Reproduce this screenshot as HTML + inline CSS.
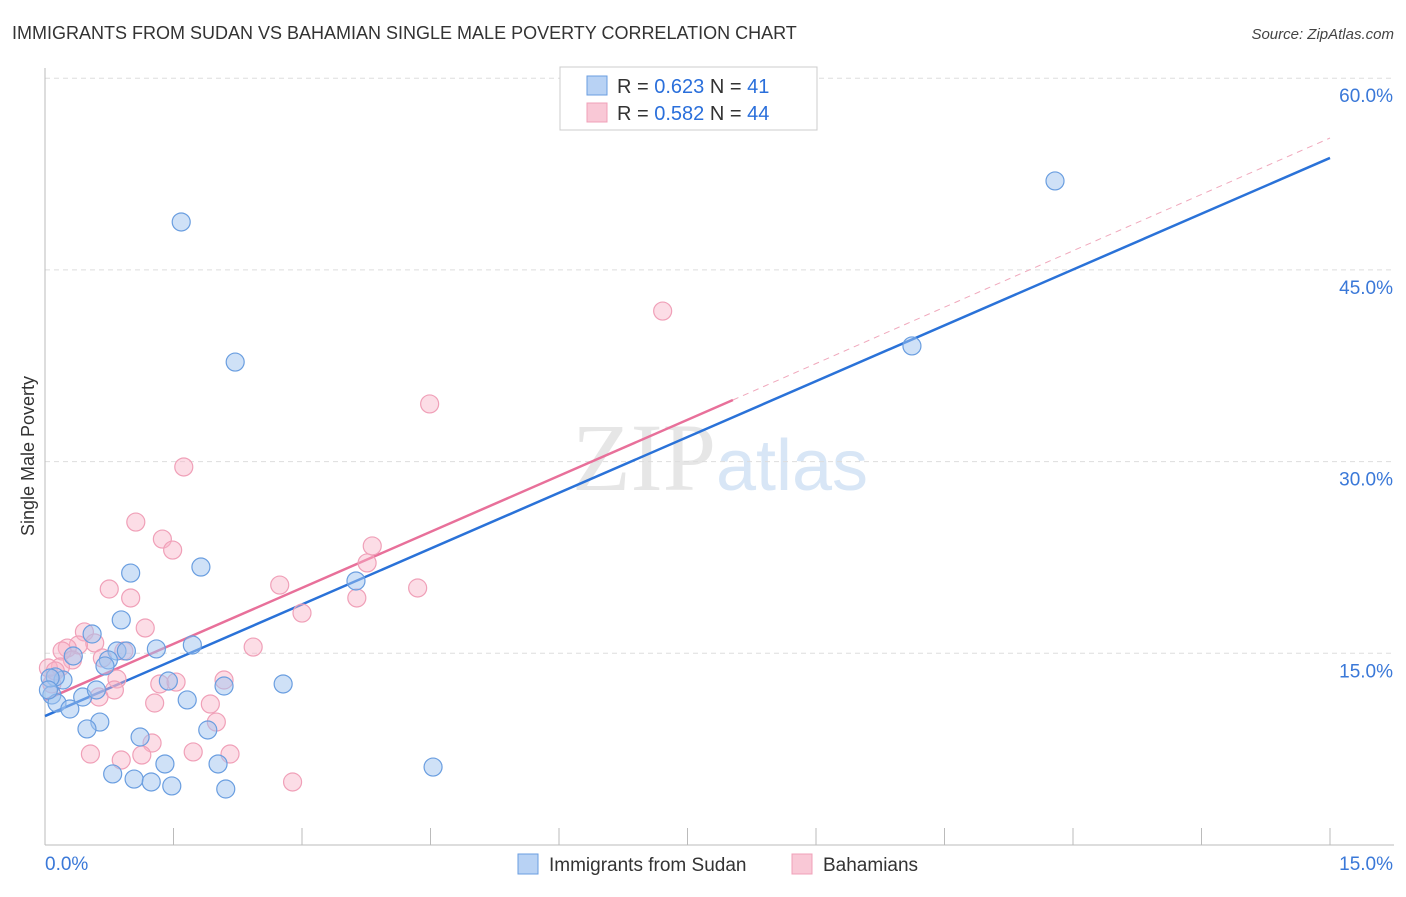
<!DOCTYPE html>
<html><head><meta charset="utf-8"><style>
body{margin:0;background:#fff;font-family:"Liberation Sans",sans-serif}
</style></head><body>
<svg id="chart" width="1406" height="892" xmlns="http://www.w3.org/2000/svg" font-family="Liberation Sans, sans-serif">
<text x="12" y="39" font-size="18" fill="#333">IMMIGRANTS FROM SUDAN VS BAHAMIAN SINGLE MALE POVERTY CORRELATION CHART</text>
<text x="1394" y="39" font-size="15" fill="#444" font-style="italic" text-anchor="end">Source: ZipAtlas.com</text>
<text x="720" y="490" font-size="96" text-anchor="middle" fill="#e6e6e6" font-family="Liberation Serif, serif">ZIP<tspan fill="#d8e6f6" font-family="Liberation Sans, sans-serif" font-size="72">atlas</tspan></text>
<text transform="translate(34,456) rotate(-90)" font-size="18" fill="#333" text-anchor="middle">Single Male Poverty</text>
<g id="grid"></g><g id="axes"></g><g id="lines"></g><g id="pts"></g>
<g>
<rect x="560" y="67" width="257" height="63" fill="#fff" stroke="#ccc"/>
<rect x="587" y="76" width="20" height="19" fill="#b8d2f4" stroke="#6a9ee0"/>
<text x="617" y="93" font-size="20" fill="#333">R = <tspan fill="#2a6fdb">0.623</tspan>   N =  <tspan fill="#2a6fdb">41</tspan></text>
<rect x="587" y="103" width="20" height="19" fill="#f9c8d6" stroke="#f0a0b8"/>
<text x="617" y="120" font-size="20" fill="#333">R = <tspan fill="#2a6fdb">0.582</tspan>   N = <tspan fill="#2a6fdb">44</tspan></text>
</g>
<g>
<rect x="518" y="854" width="20" height="20" fill="#b8d2f4" stroke="#6a9ee0"/>
<text x="549" y="871" font-size="19" fill="#333">Immigrants from Sudan</text>
<rect x="792" y="854" width="20" height="20" fill="#f9c8d6" stroke="#f0a0b8"/>
<text x="823" y="871" font-size="19" fill="#333">Bahamians</text>
</g>
</svg>
<script>
const xTicks=[0,1.5,3,4.5,6,7.5,9,10.5,12,13.5,15];
const yTicks=[15,30,45,60];
const yTickLabels=["15.0%","30.0%","45.0%","60.0%"];
const sudanX=[1.59,2.22,11.79,10.12,1.00,1.82,0.89,0.55,1.30,1.72,0.84,0.95,0.74,0.70,0.33,0.21,0.12,0.08,0.14,0.29,0.44,0.60,0.64,0.49,1.44,2.09,2.78,1.66,3.63,1.11,1.90,1.40,2.02,0.79,1.04,1.24,1.48,2.11,4.53,0.06,0.04];
const sudanY=[48.75,37.79,51.96,39.05,21.28,21.75,17.61,16.51,15.34,15.65,15.18,15.18,14.48,14.01,14.79,12.91,13.15,11.74,11.11,10.64,11.58,12.13,9.62,9.08,12.83,12.44,12.60,11.35,20.66,8.45,9.00,6.34,6.34,5.56,5.16,4.93,4.62,4.38,6.10,13.07,12.13];
const bahX=[7.21,4.49,1.62,1.06,1.37,1.49,3.82,3.76,2.74,4.35,0.75,1.00,3.64,3.00,1.17,0.46,0.58,0.39,0.26,0.20,0.32,0.67,0.92,2.43,0.18,0.84,1.34,1.53,2.09,0.81,0.63,1.28,1.93,2.00,1.25,0.53,1.13,1.73,2.16,0.89,2.89,0.04,0.08,0.12];
const bahY=[41.78,34.51,29.58,25.27,23.94,23.08,23.40,22.07,20.34,20.11,20.03,19.33,19.33,18.15,16.98,16.67,15.81,15.65,15.41,15.18,14.48,14.63,15.18,15.49,13.93,12.99,12.60,12.75,12.91,12.13,11.58,11.11,11.03,9.62,7.98,7.12,7.04,7.28,7.12,6.65,4.93,13.85,12.60,13.62];
const sudanLine=[[0,10.09],[15,53.76]];
const bahLine=[[0,11.35],[8.03,34.82]];
const bahDash=[[8.03,34.82],[15,55.32]];
const X0=45,X1=1330,YB=845;
const sx=v=>X0+(X1-X0)*v/15;
const sy=v=>YB-v*12.78;
const NS="http://www.w3.org/2000/svg";
function mk(t,a,parent){const e=document.createElementNS(NS,t);for(const k in a)e.setAttribute(k,a[k]);document.getElementById(parent).appendChild(e);return e;}
yTicks.forEach((v,i)=>{
 const g=mk('line',{x1:45,x2:1394,y1:sy(v),y2:sy(v),stroke:'#ddd','stroke-dasharray':'5,4'},'grid');
 
 
 const t=mk('text',{x:1393,y:sy(v)+24,'font-size':19,fill:'#3a78d8','text-anchor':'end'},'axes');
 t.textContent=yTickLabels[i];
 
 
});
const ax=mk('line',{x1:45,x2:45,y1:68,y2:845,stroke:'#bbb'},'axes');


const bx=mk('line',{x1:45,x2:1394,y1:845,y2:845,stroke:'#bbb'},'axes');


xTicks.forEach(v=>{const l=mk('line',{x1:sx(v),x2:sx(v),y1:828,y2:845,stroke:'#bbb'},'axes');
 
 });
const xl=mk('text',{x:45,y:870,'font-size':19,fill:'#3a78d8'},'axes');xl.textContent='0.0%';


const xr=mk('text',{x:1393,y:870,'font-size':19,fill:'#3a78d8','text-anchor':'end'},'axes');xr.textContent='15.0%';


function ln(p,c,w,d,name){const l=mk('line',{x1:sx(p[0][0]),y1:sy(p[0][1]),x2:sx(p[1][0]),y2:sy(p[1][1]),stroke:c,'stroke-width':w},'lines');if(d)l.setAttribute('stroke-dasharray',d);
 
 }
ln(bahDash,'#f0a8bc',1,'6,5','bahamians-trend-extension');
function pts(xs,ys,fill,stroke,name){xs.forEach((x,i)=>{const c=mk('circle',{cx:sx(x),cy:sy(ys[i]),r:9,fill:fill,stroke:stroke,'stroke-width':1.2},'pts');
 
 });}
pts(bahX,bahY,'rgba(248,180,200,0.45)','#f0a0b8','bahamians-point');
pts(sudanX,sudanY,'rgba(160,195,240,0.5)','#6a9ee0','sudan-point');
ln(sudanLine,'#2a72d8',2.5,null,'sudan-trend-line');
ln(bahLine,'#e8709a',2.5,null,'bahamians-trend-line');
</script>
</body></html>
